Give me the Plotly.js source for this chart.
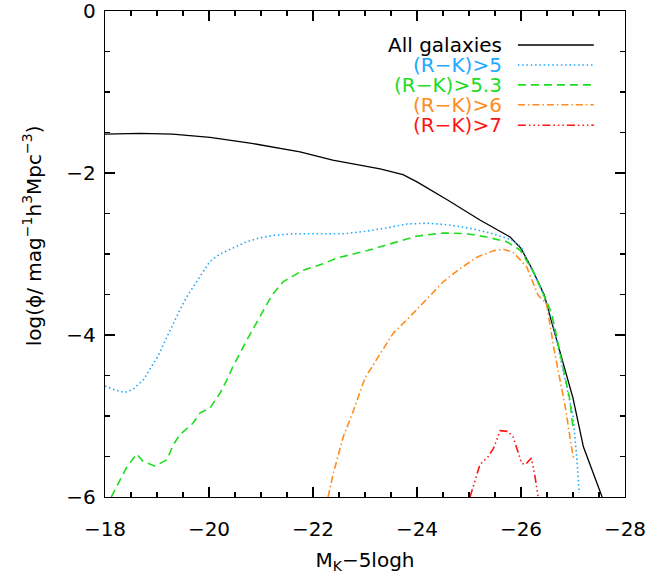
<!DOCTYPE html>
<html>
<head>
<meta charset="utf-8">
<script src="https://cdn.plot.ly/plotly-3.0.1.min.js"></script>
<style>html,body{margin:0;padding:0;background:#fff;}#chart{width:658px;height:577px;}</style>
</head>
<body>
<div id="chart"></div>
<script>
// ---- data ----
const seriesNames = ["All galaxies", "(R\u2212K)>5", "(R\u2212K)>5.3", "(R\u2212K)>6", "(R\u2212K)>7"];
const seriesColors = ["#000000", "#1ea8ff", "#1edc1e", "#ff8c1e", "#ff1414"];

const allMag = [-18, -18.67, -19.3, -20.02, -20.79, -21.25, -21.75, -22.38, -22.9, -23.29, -23.73, -24.0, -24.58, -25.21, -25.79, -26.0, -26.2, -26.45, -26.65, -27.0, -27.2, -27.56];
const allPhi = [-1.52, -1.51, -1.52, -1.56, -1.63, -1.68, -1.74, -1.84, -1.90, -1.95, -2.02, -2.11, -2.33, -2.58, -2.79, -2.93, -3.17, -3.51, -3.98, -4.78, -5.38, -6.0];

const rk5Mag = [-18.0, -18.2, -18.38, -18.54, -18.74, -18.90, -19.03, -19.15, -19.28, -19.41, -19.57, -19.70, -19.86, -20.02, -20.21, -20.47, -20.72, -20.98, -21.24, -21.62, -22.0, -22.6, -23.0, -23.4, -23.8, -24.2, -24.6, -25.0, -25.4, -25.8, -26.0, -26.2, -26.4, -26.6, -26.8, -27.0, -27.07, -27.12];
const rk5Phi = [-4.63, -4.68, -4.71, -4.67, -4.55, -4.39, -4.25, -4.08, -3.90, -3.73, -3.53, -3.40, -3.24, -3.09, -3.00, -2.92, -2.85, -2.80, -2.77, -2.75, -2.75, -2.75, -2.72, -2.68, -2.63, -2.62, -2.64, -2.68, -2.74, -2.82, -2.91, -3.17, -3.45, -3.82, -4.40, -5.0, -5.5, -5.95];

const rk53Mag = [-18.12, -18.29, -18.42, -18.61, -18.73, -18.96, -19.19, -19.31, -19.44, -19.69, -19.83, -20.02, -20.21, -20.34, -20.46, -20.73, -20.98, -21.21, -21.43, -21.81, -22.2, -22.46, -23.03, -23.54, -23.99, -24.51, -24.96, -25.34, -25.73, -25.98, -26.24, -26.59, -26.78, -26.94, -27.0];
const rk53Phi = [-6.0, -5.79, -5.63, -5.47, -5.56, -5.62, -5.54, -5.36, -5.23, -5.09, -4.96, -4.90, -4.72, -4.56, -4.39, -4.06, -3.77, -3.51, -3.34, -3.20, -3.12, -3.05, -2.96, -2.86, -2.78, -2.74, -2.75, -2.79, -2.85, -2.95, -3.22, -3.73, -4.31, -4.80, -5.15];

const rk6Mag = [-22.29, -22.39, -22.58, -22.78, -23.0, -23.29, -23.54, -23.87, -24.19, -24.51, -24.83, -25.15, -25.47, -25.66, -25.85, -26.11, -26.33, -26.49, -26.65, -26.85, -26.97, -27.01];
const rk6Phi = [-6.0, -5.71, -5.26, -4.93, -4.53, -4.23, -3.98, -3.77, -3.55, -3.34, -3.18, -3.04, -2.96, -2.94, -2.98, -3.16, -3.51, -3.61, -4.23, -4.88, -5.38, -5.52];

const rk7Mag = [-25.02, -25.12, -25.21, -25.37, -25.47, -25.6, -25.75, -25.85, -26.01, -26.08, -26.2, -26.27, -26.33];
const rk7Phi = [-6.0, -5.79, -5.60, -5.50, -5.40, -5.18, -5.19, -5.26, -5.58, -5.60, -5.52, -5.75, -6.0];

const xTickVals = [-18, -20, -22, -24, -26, -28];
const yTickVals = [0, -2, -4, -6];

// ---- styling ----
const FONT = '"DejaVu Sans", sans-serif';
const dashes = ["solid", "1.5px,2.8px", "8px,5px", "7px,3px,1.5px,3px", "8px,3px,1.5px,3px,1.5px,3px,1.5px,3px"];
const widths = [1.3, 1.6, 1.6, 1.6, 1.6];
const xs = [allMag, rk5Mag, rk53Mag, rk6Mag, rk7Mag];
const ys = [allPhi, rk5Phi, rk53Phi, rk6Phi, rk7Phi];

const traces = xs.map((x, i) => ({
  type: 'scatter', mode: 'lines', x: x, y: ys[i], name: seriesNames[i],
  line: {color: seriesColors[i], width: widths[i], dash: dashes[i]},
  showlegend: false, hoverinfo: 'skip'
}));

// legend drawn as text + sample lines
const rowY = [0.930, 0.889, 0.848, 0.807, 0.765];
const annotations = seriesNames.map((n, i) => ({
  xref: 'paper', yref: 'paper', x: 0.7673, y: rowY[i], xanchor: 'right', yanchor: 'middle',
  text: n, showarrow: false, font: {family: FONT, size: 20, color: seriesColors[i]}
}));
annotations.push({
  xref: 'paper', yref: 'paper', x: -0.14, y: 0.537, xanchor: 'center', yanchor: 'middle',
  textangle: -90, showarrow: false,
  text: 'log(\u03d5/ mag<sup>\u22121</sup>h<sup>3</sup>Mpc<sup>\u22123</sup>)',
  font: {family: FONT, size: 20, color: '#000'}
});
const shapes = seriesNames.map((n, i) => ({
  type: 'line', xref: 'paper', yref: 'paper', x0: 0.794, x1: 0.940, y0: rowY[i], y1: rowY[i],
  line: {color: seriesColors[i], width: widths[i], dash: dashes[i]}
}));

const axisCommon = {
  showline: true, linecolor: '#000', linewidth: 1.3, mirror: 'ticks',
  ticks: 'inside', ticklen: 10, tickwidth: 1.3, tickcolor: '#000',
  showgrid: false, zeroline: false, ticklabeloverflow: 'allow',
  tickfont: {family: FONT, size: 20, color: '#000'}
};

const layout = {
  width: 658, height: 577,
  margin: {l: 105, r: 33, t: 11, b: 80, pad: 0},
  paper_bgcolor: '#fff', plot_bgcolor: '#fff',
  font: {family: FONT, size: 20, color: '#000'},
  xaxis: Object.assign({}, axisCommon, {
    range: [-18, -28], tickvals: xTickVals, ticklabelstandoff: 14,
    minor: {dtick: 0.5, tick0: -18, ticks: 'inside', ticklen: 5, tickwidth: 1.3, tickcolor: '#000'},
    title: {text: 'M<sub>K</sub>\u22125logh', font: {family: FONT, size: 20, color: '#000'}, standoff: 12}
  }),
  yaxis: Object.assign({}, axisCommon, {
    range: [-6, 0], tickvals: yTickVals, ticklabelstandoff: 4,
    minor: {dtick: 0.5, tick0: 0, ticks: 'inside', ticklen: 5, tickwidth: 1.3, tickcolor: '#000'}
  }),
  annotations: annotations,
  shapes: shapes,
  showlegend: false
};

Plotly.newPlot('chart', traces, layout, {displayModeBar: false, staticPlot: true});
</script>
</body>
</html>
